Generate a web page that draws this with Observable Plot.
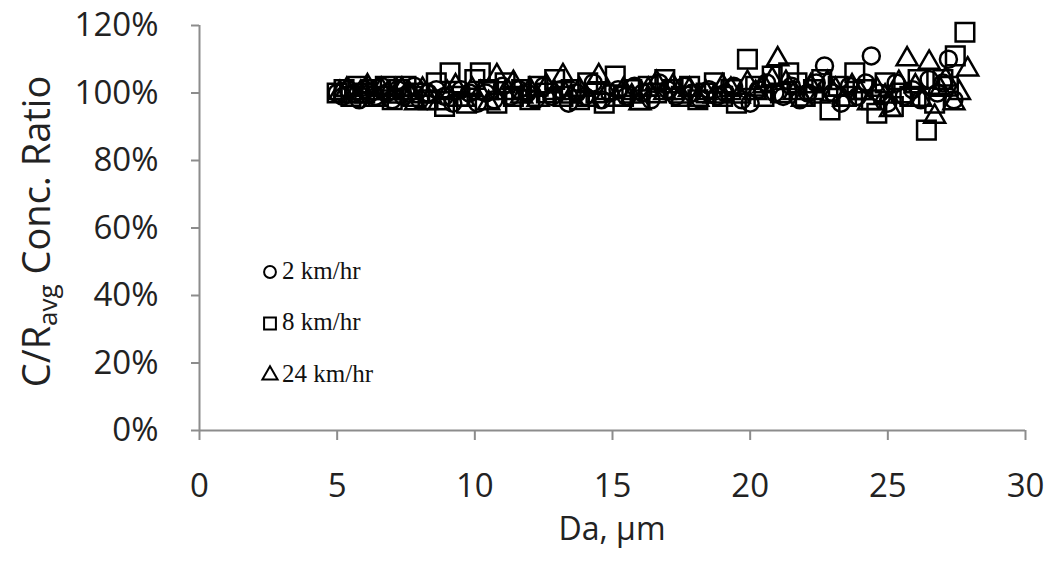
<!DOCTYPE html>
<html>
<head>
<meta charset="utf-8">
<script src="https://cdn.jsdelivr.net/npm/d3@7"></script>
<script src="https://cdn.jsdelivr.net/npm/@observablehq/plot@0.6"></script>
<style>
  html, body { margin: 0; padding: 0; background: #fff; }
  #chart { position: relative; width: 1050px; height: 563px; }
</style>
</head>
<body>
<div id="chart"></div>
<script>
// Series: 2 km/hr (circles) — x in µm, y in %
const circleX = [5.0,5.2,5.4,5.6,5.8,6.0,6.2,6.4,6.6,6.8,7.0,7.2,7.4,7.6,7.8,8.0,8.3,8.6,8.9,9.2,9.5,9.8,10.1,10.4,10.7,11.0,11.3,11.6,11.9,12.2,12.5,12.8,13.1,13.4,13.7,14.0,14.3,14.6,14.9,15.2,15.5,15.8,16.1,16.4,16.7,17.0,17.3,17.6,17.9,18.2,18.5,18.8,19.1,19.4,19.7,20.0,20.3,20.6,20.9,21.2,21.5,21.8,22.1,22.4,22.7,23.0,23.3,23.6,23.9,24.2,24.4,24.7,25.0,25.3,25.6,25.9,26.2,26.5,26.8,27.0,27.2,27.4];
const circleY = [100,99,101,100,98,101,100,99,102,100,98,101,99,100,102,98,100,101,99,97,101,100,97,100,98,102,99,101,100,98,102,99,101,97,100,99,103,98,100,101,99,102,100,98,103,101,99,102,100,98,101,99,100,102,98,97,101,103,100,99,102,98,100,103,108,100,97,102,99,103,111,100,97,103,99,101,98,104,100,103,110,98];
// Series: 8 km/hr (squares)
const squareX = [5.0,5.25,5.5,5.75,6.0,6.25,6.5,6.75,7.0,7.25,7.5,7.75,8.0,8.3,8.6,8.9,9.1,9.4,9.7,10.0,10.2,10.5,10.8,11.1,11.4,11.7,12.0,12.3,12.6,12.9,13.2,13.5,13.8,14.1,14.4,14.7,15.1,15.4,15.7,16.0,16.3,16.6,16.9,17.2,17.5,17.8,18.1,18.4,18.7,19.0,19.3,19.5,19.9,20.2,20.5,20.8,21.1,21.4,21.7,22.0,22.3,22.6,22.9,23.2,23.5,23.8,24.1,24.4,24.6,24.9,25.2,25.5,25.8,26.1,26.4,26.7,27.0,27.2,27.45,27.8];
const squareY = [100,101,99,102,100,101,99,102,98,101,102,99,100,98,103,96,106,99,97,104,106,101,97,103,99,101,98,102,100,104,99,101,98,103,100,97,105,99,101,98,102,100,104,101,99,102,98,100,103,99,101,97,110,102,99,105,100,106,103,99,101,104,95,102,99,106,101,98,94,103,96,100,99,104,89,97,104,102,111,118];
// Series: 24 km/hr (triangles)
const triX = [5.1,5.35,5.6,5.85,6.1,6.35,6.6,6.85,7.1,7.35,7.6,7.85,8.1,8.4,8.7,9.0,9.3,9.6,9.9,10.2,10.5,10.8,11.1,11.4,11.7,12.0,12.3,12.6,12.9,13.2,13.5,13.8,14.1,14.5,14.8,15.1,15.4,15.7,16.0,16.3,16.6,16.9,17.2,17.5,17.8,18.1,18.4,18.7,19.0,19.3,19.6,19.9,20.2,20.5,20.8,21.0,21.3,21.6,21.9,22.2,22.5,22.8,23.1,23.4,23.7,24.0,24.3,24.6,24.9,25.1,25.4,25.7,26.0,26.2,26.5,26.7,26.9,27.1,27.4,27.6,27.9];
const triY = [100,101,99,100,102,98,101,100,99,101,100,97,101,99,97,100,102,98,101,100,97,105,100,103,99,101,98,102,100,105,99,101,98,105,100,98,101,99,97,101,103,100,102,99,101,98,100,99,102,101,99,103,100,102,104,110,103,100,98,102,99,103,101,98,102,100,97,101,99,95,103,110,102,98,109,93,101,104,97,100,107];

const seriesNames = ["2 km/hr", "8 km/hr", "24 km/hr"];
const xTicks = [0,5,10,15,20,25,30];
const yTicks = [0,0.2,0.4,0.6,0.8,1.0,1.2];
const xTitle = "Da, µm";

const toRows = (xs, ys) => xs.map((x, i) => ({x, y: ys[i] / 100}));
const circles = toRows(circleX, circleY);
const squares = toRows(squareX, squareY);
const tris = toRows(triX, triY);

const axisColor = "#8c8c8c";
const font = "'Open Sans', sans-serif";

const plot = Plot.plot({
  width: 1050,
  height: 563,
  marginLeft: 199,
  marginRight: 25,
  marginTop: 25,
  marginBottom: 133,
  style: {fontFamily: font, fontSize: "33px", color: "#222", background: "#fff", overflow: "visible"},
  x: {domain: [0, 30]},
  y: {domain: [0, 1.2]},
  marks: [
    Plot.ruleX([0], {stroke: axisColor, strokeWidth: 2}),
    Plot.ruleY([0], {stroke: axisColor, strokeWidth: 2}),
    Plot.axisY({ticks: yTicks, tickFormat: d3.format(".0%"), tickSize: 8, tickPadding: 33, stroke: axisColor, strokeWidth: 2, fill: "#222", label: null, fontSize: 33}),
    Plot.axisX({ticks: xTicks, tickSize: 10, tickPadding: 33, stroke: axisColor, strokeWidth: 2, fill: "#222", label: null, fontSize: 33}),
    Plot.dot(circles, {x: "x", y: "y", symbol: "circle", r: 8.5, stroke: "#000", strokeWidth: 2.5, fill: "none"}),
    Plot.dot(squares, {x: "x", y: "y", symbol: "square", r: 10.5, stroke: "#000", strokeWidth: 2.5, fill: "none"}),
    Plot.dot(tris, {x: "x", y: "y", symbol: "triangle", r: 7.8, stroke: "#000", strokeWidth: 2.5, fill: "none"})
  ]
});
document.getElementById("chart").appendChild(plot);

const svg = d3.select(plot);
const xs = plot.scale("x"), ys = plot.scale("y");
const xMid = (xs.range[0] + xs.range[1]) / 2;
const yMid = (ys.range[0] + ys.range[1]) / 2;

// X axis title
svg.append("text")
  .attr("x", xMid).attr("y", 531)
  .attr("text-anchor", "middle").attr("dominant-baseline", "middle")
  .attr("font-family", font).attr("font-size", 32).attr("fill", "#222")
  .text(xTitle);

// Y axis title with subscript
const yt = svg.append("text")
  .attr("transform", `translate(40,${yMid + 4}) rotate(-90)`)
  .attr("text-anchor", "middle").attr("dominant-baseline", "middle")
  .attr("font-family", font).attr("font-size", 38).attr("fill", "#222");
yt.append("tspan").text("C/R");
yt.append("tspan").attr("font-size", 26).attr("dy", 10).text("avg");
yt.append("tspan").attr("dy", -10).text(" Conc. Ratio");

// Legend
const legendSymbols = [d3.symbolCircle, d3.symbolSquare, d3.symbolTriangle];
const legendSizes = [110, 140, 100];
const lg = svg.append("g").attr("font-family", "'Liberation Serif', 'Times New Roman', serif").attr("font-size", 25).attr("fill", "#111").attr("text-anchor", "start");
seriesNames.forEach((name, i) => {
  const cy = 272 + i * 51.5;
  lg.append("path").attr("d", d3.symbol(legendSymbols[i], legendSizes[i])())
    .attr("transform", `translate(270,${cy})`)
    .attr("fill", "none").attr("stroke", "#000").attr("stroke-width", 2);
  lg.append("text").attr("x", 282).attr("y", cy + 1).attr("text-anchor", "start").attr("dominant-baseline", "middle").text(name);
});
</script>
</body>
</html>
